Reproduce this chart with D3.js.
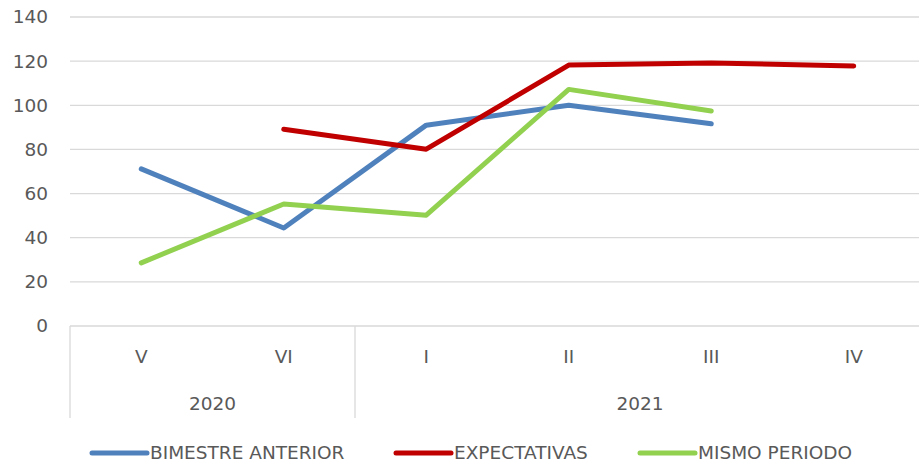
<!DOCTYPE html>
<html>
<head>
<meta charset="utf-8">
<script src="https://cdn.jsdelivr.net/npm/d3@7"></script>
<style>
body { margin: 0; background: #fff; }
text { font-family: "DejaVu Sans", sans-serif; fill: #595959; font-size: 18.5px; }
</style>
</head>
<body>
<div id="chart"></div>
<script>
const width = 919;
const height = 467;

// data
const periods = ["V", "VI", "I", "II", "III", "IV"];
const years = [
  { label: "2020", from: 0, to: 2 },
  { label: "2021", from: 2, to: 6 }
];
const seriesNames = ["BIMESTRE ANTERIOR", "EXPECTATIVAS", "MISMO PERIODO"];
const bimestreAnterior = [71.2, 44.4, 91, 100, 91.6, null];
const expectativas = [null, 89.1, 80.1, 118.2, 119.2, 117.8];
const mismoPeriodo = [28.6, 55.3, 50.2, 107.2, 97.4, null];
const yTicks = [0, 20, 40, 60, 80, 100, 120, 140];
const colors = ["#4f81bd", "#c00000", "#92d050"];

const margin = { left: 70, top: 17, bottom: 141 };
const plotRight = 925; // plot runs slightly past the window edge

var svg = d3.select("#chart")
  .append("svg")
  .attr("width", width)
  .attr("height", height);

var x = d3.scaleBand()
  .domain(d3.range(periods.length))
  .range([margin.left, plotRight]);

var y = d3.scaleLinear()
  .domain([0, 140])
  .range([height - margin.bottom, margin.top]);

// gridlines
svg.append("g")
  .selectAll("line")
  .data(yTicks)
  .enter()
  .append("line")
  .attr("x1", margin.left)
  .attr("x2", width)
  .attr("y1", d => y(d))
  .attr("y2", d => y(d))
  .style("stroke", "#d9d9d9")
  .style("stroke-width", 1.3);

// y labels
svg.append("g")
  .selectAll("text")
  .data(yTicks)
  .enter()
  .append("text")
  .attr("x", 48)
  .attr("y", d => y(d))
  .attr("dy", "0.35em")
  .attr("text-anchor", "end")
  .text(d => d);

// category labels
var y0 = y(0);
svg.append("g")
  .selectAll("text")
  .data(periods)
  .enter()
  .append("text")
  .attr("x", (d, i) => x(i) + x.bandwidth() / 2)
  .attr("y", y0 + 31)
  .attr("dy", "0.35em")
  .attr("text-anchor", "middle")
  .text(d => d);

// year groups
svg.append("g")
  .selectAll("line")
  .data(years)
  .enter()
  .append("line")
  .attr("x1", d => x(d.from))
  .attr("x2", d => x(d.from))
  .attr("y1", y0)
  .attr("y2", y0 + 92)
  .style("stroke", "#d9d9d9")
  .style("stroke-width", 1.3);

svg.append("g")
  .selectAll("text")
  .data(years)
  .enter()
  .append("text")
  .attr("x", d => (x(d.from) + (d.to < periods.length ? x(d.to) : plotRight)) / 2)
  .attr("y", y0 + 78)
  .attr("dy", "0.35em")
  .attr("text-anchor", "middle")
  .text(d => d.label);

// lines
var line = d3.line()
  .defined(d => d != null)
  .x((d, i) => x(i) + x.bandwidth() / 2)
  .y(d => y(d));

[bimestreAnterior, expectativas, mismoPeriodo].forEach((values, k) => {
  svg.append("path")
    .datum(values)
    .attr("d", line)
    .style("fill", "none")
    .style("stroke", colors[k])
    .style("stroke-width", 5)
    .style("stroke-linecap", "round")
    .style("stroke-linejoin", "round");
});

// legend
const legendX = [92, 396, 640];
var legend = svg.append("g")
  .selectAll("g")
  .data(seriesNames)
  .enter()
  .append("g")
  .attr("transform", (d, i) => `translate(${legendX[i]},453)`);

legend.append("line")
  .attr("x1", 0)
  .attr("x2", 55)
  .style("stroke", (d, i) => colors[i])
  .style("stroke-width", 5)
  .style("stroke-linecap", "round");

legend.append("text")
  .attr("x", 58)
  .attr("dy", "0.35em")
  .text(d => d);
</script>
</body>
</html>
